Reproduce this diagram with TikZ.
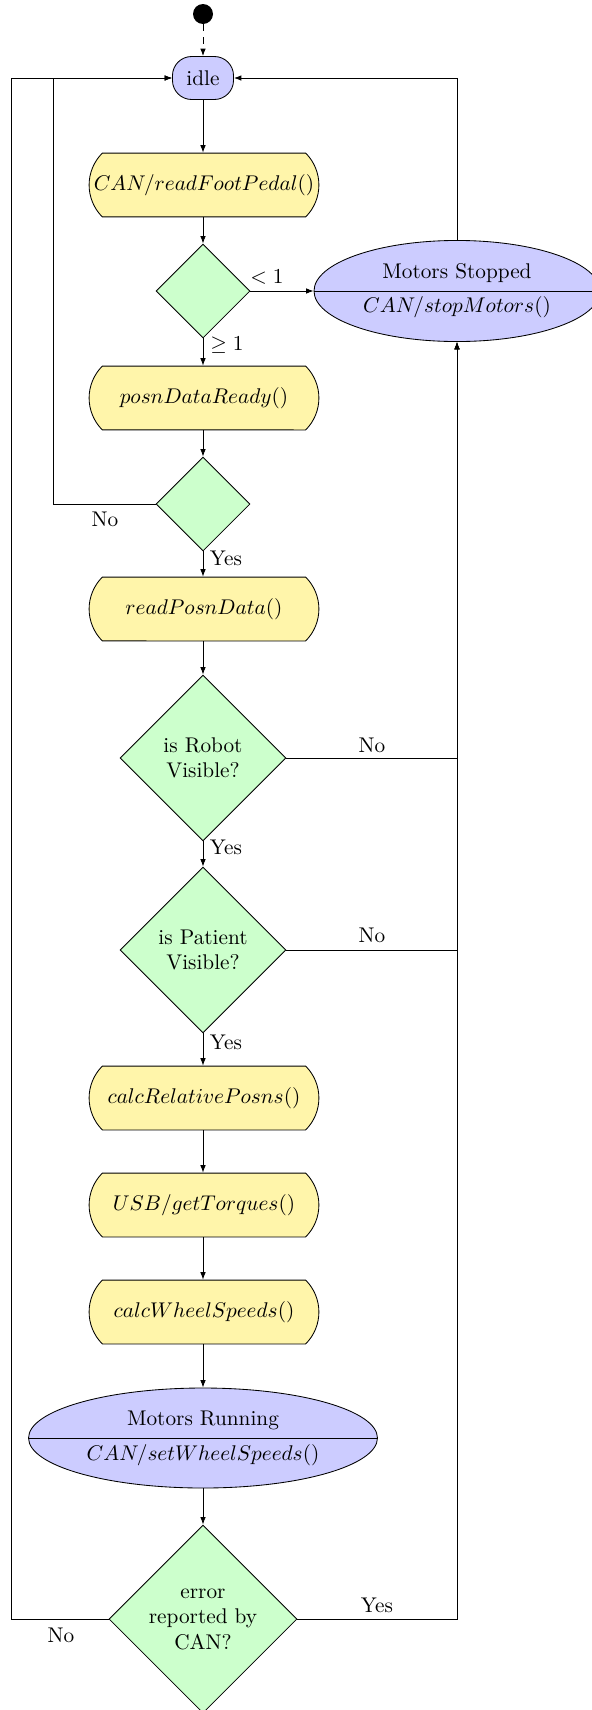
\documentclass[tikz,border=0pt]{standalone}
\usetikzlibrary{shapes.geometric,shapes.misc,arrows.meta}
\definecolor{decgreen}{RGB}{204,255,204}
\definecolor{stateblue}{RGB}{204,204,255}
\definecolor{procyellow}{RGB}{255,245,170}
\tikzset{
  startdot/.style={circle, fill=black, minimum size=9.4pt, inner sep=0pt},
  statebox/.style={rectangle, rounded corners=9pt, draw, fill=stateblue, minimum width=28.7pt, minimum height=20.2pt, inner sep=2pt},
  procbox/.style={rounded rectangle, rounded rectangle arc length=90, draw, fill=procyellow, minimum width=108pt, minimum height=30pt, inner xsep=0pt},
  decision/.style={diamond, draw, fill=decgreen, aspect=1, inner sep=0pt, align=center},
  stateell/.style={ellipse, draw, fill=stateblue, inner sep=0pt},
  arr/.style={-{Latex[length=3.5pt,width=2.6pt]}},
  lbl/.style={inner sep=1pt},
}
\begin{document}
\begin{tikzpicture}[x=0.47pt,y=-0.47pt]
\useasboundingbox (0,0) rectangle (592,1710);
% nodes
\node[startdot] (start) at (203,14) {};
\node[statebox] (idle) at (203,78) {idle};
\node[procbox] (rfp) at (204,185) {$CAN/readFootPedal()$};
\node[decision, minimum size=44.2pt] (d1) at (203,291) {};
\node[stateell, minimum width=134.4pt, minimum height=47.5pt] (stop) at (457,291) {};
\node[procbox] (pdr) at (204,398) {$posnDataReady()$};
\node[decision, minimum size=44.2pt] (d2) at (203,504) {};
\node[procbox] (rpd) at (204,609) {$readPosnData()$};
\node[decision, minimum size=78pt] (robot) at (203,758) {is Robot\\Visible?};
\node[decision, minimum size=78pt] (patient) at (203,950) {is Patient\\Visible?};
\node[procbox] (crp) at (204,1098) {$calcRelativePosns()$};
\node[procbox] (usb) at (204,1205) {$USB/getTorques()$};
\node[procbox] (cws) at (204,1312) {$calcWheelSpeeds()$};
\node[stateell, minimum width=164pt, minimum height=47pt] (run) at (203,1438) {};
\node[decision, minimum size=88.4pt] (err) at (203,1619) {error\\reported by\\CAN?};
% split ellipses
\draw (stop.west) -- (stop.east);
\node (stopA) at (457,273) {Motors Stopped};
\node (stopB) at (457,307) {$CAN/stopMotors()$};
\draw (run.west) -- (run.east);
\node (runA) at (203,1420) {Motors Running};
\node (runB) at (203,1455) {$CAN/setWheelSpeeds()$};
% helper coordinates
\coordinate (innerx) at (53,0);
\coordinate (outerx) at (11,0);
% main flow
\draw[arr, dashed] (start) -- (idle);
\draw[arr] (idle) -- (idle |- rfp.north);
\draw[arr] (idle |- rfp.south) -- (d1);
\draw[arr] (d1) -- (d1 |- pdr.north);
\draw[arr] (d1 |- pdr.south) -- (d2);
\draw[arr] (d2) -- (d2 |- rpd.north);
\draw[arr] (d2 |- rpd.south) -- (robot);
\draw[arr] (robot) -- (patient);
\draw[arr] (patient) -- (patient |- crp.north);
\draw[arr] (patient |- crp.south) -- (patient |- usb.north);
\draw[arr] (patient |- usb.south) -- (patient |- cws.north);
\draw[arr] (patient |- cws.south) -- (run);
\draw[arr] (run) -- (err);
% branches
\draw[arr] (d1.east) -- (stop.west);
\draw[arr] (stop.north) |- (idle.east);
\draw[arr] (d2.west) -| (innerx |- idle.west) -- (idle.west);
\draw[arr] (err.west) -| (outerx |- idle.west) -- (idle.west);
\draw[arr] (err.east) -| (stop.south);
\draw[arr] (robot.east) -| (stop.south);
\draw[arr] (patient.east) -| (stop.south);
% labels
\node[lbl] (l1) at (267,277) {$<1$};
\node[lbl] (l2) at (227,345) {$\geq 1$};
\node[lbl] (l3) at (105,519) {No};
\node[lbl] (l4) at (226,558) {Yes};
\node[lbl] (l5) at (372,745) {No};
\node[lbl] (l6) at (226,847) {Yes};
\node[lbl] (l7) at (372,935) {No};
\node[lbl] (l8) at (226,1042) {Yes};
\node[lbl] (l9) at (377,1605) {Yes};
\node[lbl] (l10) at (61,1635) {No};
\end{tikzpicture}
\end{document}
